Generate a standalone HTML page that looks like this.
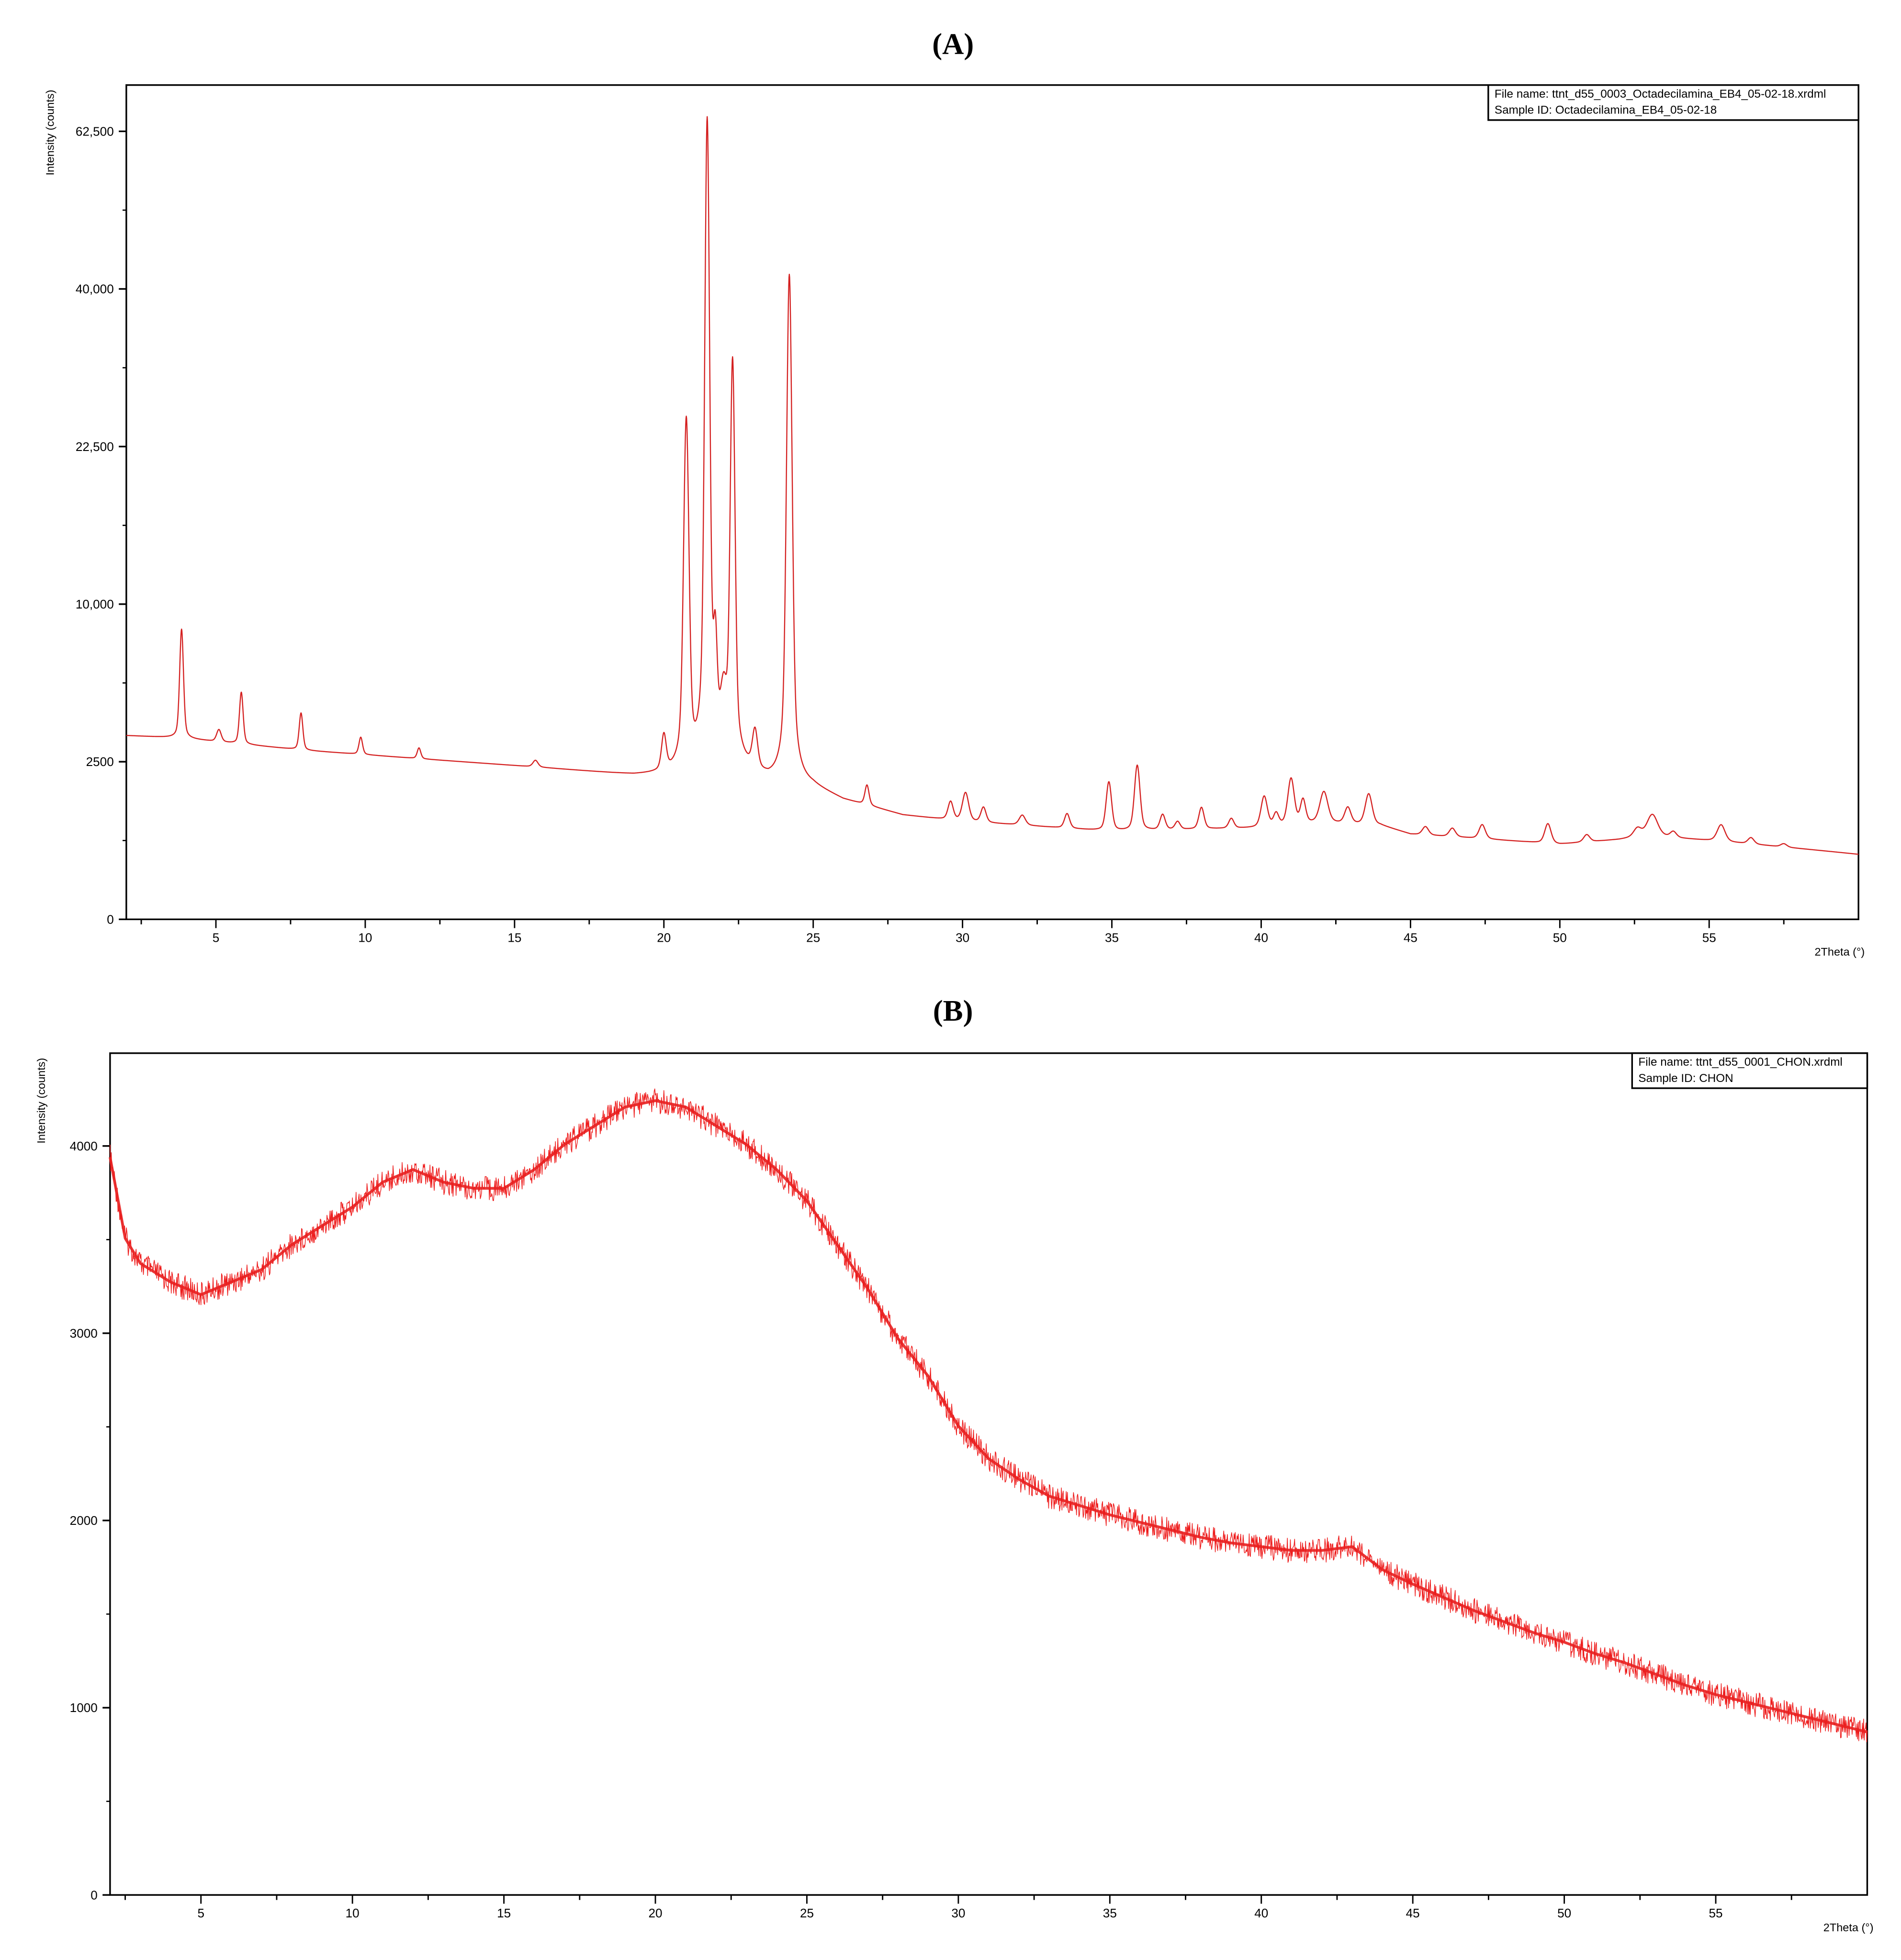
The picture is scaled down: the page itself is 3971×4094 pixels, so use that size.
<!DOCTYPE html>
<html><head><meta charset="utf-8"><style>
html,body{margin:0;padding:0;background:#fff;}
svg{display:block;}
.sans{font-family:"Liberation Sans",sans-serif;}
</style></head><body>
<svg id="fig" xmlns="http://www.w3.org/2000/svg" width="3971" height="4094" viewBox="0 0 1520 1567" preserveAspectRatio="none">
<rect x="0" y="0" width="1520" height="1567" fill="#fff"/>
<text x="762" y="43" text-anchor="middle" style="font-family:'Liberation Serif',serif;font-size:24px;font-weight:bold">(A)</text>
<text x="762" y="816" text-anchor="middle" style="font-family:'Liberation Serif',serif;font-size:24px;font-weight:bold">(B)</text>
<g id="chartA" class="sans"></g>
<g id="chartB" class="sans"></g>
</svg>
<script>
// ---------- Chart A data ----------
const aBaseX = [2, 3.8, 5, 8, 12, 16, 19, 20, 21, 21.7, 22.6, 23.5, 25, 26, 28, 30, 32, 35, 38, 40, 42, 44, 45, 50, 52, 53, 54, 55, 60];
const aBaseY = [3400, 3310, 3175, 2870, 2580, 2305, 2083, 2083, 2100, 2600, 2300, 1900, 1736, 1421, 1085, 958, 886, 772, 816, 840, 934, 886, 728, 567, 640, 707, 660, 625, 425];
const aPeakPos = [3.85, 5.1, 5.85, 7.85, 9.85, 11.8, 15.7, 20.0, 20.75, 21.45, 21.72, 22.0, 22.3, 23.05, 24.2, 26.8, 29.6, 30.1, 30.7, 32.0, 33.5, 34.9, 35.85, 36.7, 37.2, 38.0, 39.0, 40.1, 40.5, 41.0, 41.4, 42.1, 42.9, 43.6, 45.5, 46.4, 47.4, 49.6, 50.9, 52.6, 53.1, 53.8, 55.4, 56.4, 57.5];
const aPeakHeight = [5170, 450, 2100, 1400, 600, 360, 210, 1200, 23000, 62000, 4500, 2200, 29000, 1300, 40000, 500, 400, 650, 320, 200, 290, 1120, 1600, 300, 150, 440, 190, 670, 250, 1100, 520, 700, 340, 685, 150, 150, 250, 340, 120, 150, 400, 100, 290, 100, 50];
const aPeakWidth = [0.07, 0.09, 0.07, 0.07, 0.07, 0.07, 0.1, 0.09, 0.09, 0.08, 0.07, 0.12, 0.08, 0.1, 0.09, 0.08, 0.1, 0.12, 0.1, 0.12, 0.1, 0.1, 0.1, 0.1, 0.1, 0.1, 0.1, 0.12, 0.1, 0.12, 0.1, 0.15, 0.12, 0.13, 0.12, 0.12, 0.12, 0.12, 0.12, 0.15, 0.2, 0.12, 0.15, 0.12, 0.12];
const aYTicks = [0, 2500, 10000, 22500, 40000, 62500];
const aYTickLabels = ["0", "2500", "10,000", "22,500", "40,000", "62,500"];
const xTicks = [5, 10, 15, 20, 25, 30, 35, 40, 45, 50, 55];

// ---------- Chart B data ----------
const bX = [2, 2.5, 3, 4, 5, 6, 7, 8, 9, 10, 11, 12, 13, 14, 15, 16, 17, 18, 19, 20, 21, 22, 23, 24, 25, 26, 27, 28, 29, 30, 31, 32, 33, 34, 35, 36, 37, 38, 39, 40, 41, 42, 43, 44, 45, 46, 47, 48, 49, 50, 51, 52, 53, 54, 55, 56, 57, 58, 59, 60];
const bY = [3940, 3507, 3373, 3273, 3206, 3273, 3340, 3473, 3574, 3674, 3807, 3874, 3807, 3774, 3774, 3874, 4008, 4108, 4208, 4242, 4208, 4108, 4008, 3874, 3707, 3473, 3240, 2973, 2772, 2505, 2330, 2220, 2130, 2080, 2030, 1990, 1950, 1910, 1880, 1860, 1840, 1840, 1860, 1737, 1660, 1590, 1520, 1460, 1400, 1350, 1290, 1240, 1180, 1120, 1070, 1030, 990, 950, 910, 870];
const bYTicks = [0, 1000, 2000, 3000, 4000];
const bYTickLabels = ["0", "1000", "2000", "3000", "4000"];

const NS = "http://www.w3.org/2000/svg";
function mk(tag, attrs, parent) {
  const e = document.createElementNS(NS, tag);
  for (const k in attrs) e.setAttribute(k, attrs[k]);
  parent.appendChild(e);
  return e;
}
function interp(xs, ys, x) {
  if (x <= xs[0]) return ys[0];
  for (let i = 1; i < xs.length; i++) {
    if (x <= xs[i]) { const t = (x - xs[i-1]) / (xs[i] - xs[i-1]); return ys[i-1] + t * (ys[i] - ys[i-1]); }
  }
  return ys[ys.length-1];
}

// ---------- Chart A ----------
(function(){
  const g = document.getElementById('chartA');
  const L = 101, R = 1486, T = 68, B = 735;
  const xs = v => L + (v - 2) / 58 * (R - L);
  const ys = v => B - Math.sqrt(Math.max(v,0)) / 50 * 126;
  const frame = mk('rect', {x:L, y:T, width:R-L, height:B-T, fill:'none', stroke:'#000', 'stroke-width':1.3}, g);
  
  
  aYTicks.forEach((v,i) => {
    const y = ys(v);
    const t = mk('line', {x1:L-6, x2:L, y1:y, y2:y, stroke:'#000', 'stroke-width':1.3}, g);
    
    
    const lb = mk('text', {x:L-10, y:y+3.5, 'text-anchor':'end', 'font-size':10}, g);
    lb.textContent = aYTickLabels[i];
    
    
    if (i < aYTicks.length - 1) {
      const s = (Math.sqrt(v) + Math.sqrt(aYTicks[i+1])) / 2;
      const my = ys(s*s);
      const m = mk('line', {x1:L-3, x2:L, y1:my, y2:my, stroke:'#000', 'stroke-width':1}, g);
      
      
    }
  });
  for (let v = 2.5; v < 60; v += 2.5) {
    const major = v % 5 === 0;
    const x = xs(v);
    const t = mk('line', {x1:x, x2:x, y1:B, y2:B+(major?7:4), stroke:'#000', 'stroke-width':1.1}, g);
    
    
  }
  xTicks.forEach(v => {
    const lb = mk('text', {x:xs(v), y:B+18, 'text-anchor':'middle', 'font-size':10}, g);
    lb.textContent = String(v);
    
    
  });
  const yt = mk('text', {x:0, y:0, transform:'translate(43,106) rotate(-90)', 'text-anchor':'middle', 'font-size':9}, g);
  yt.textContent = 'Intensity (counts)';
  
  
  const xt = mk('text', {x:1491, y:764, 'text-anchor':'end', 'font-size':9}, g);
  xt.textContent = '2Theta (°)';
  
  
  const lg = mk('rect', {x:1190, y:T, width:R-1190, height:28, fill:'#fff', stroke:'#000', 'stroke-width':1.3}, g);
  
  
  const l1 = mk('text', {x:1195, y:78, 'font-size':9.3}, g);
  l1.textContent = 'File name:  ttnt_d55_0003_Octadecilamina_EB4_05-02-18.xrdml';
  
  
  const l2 = mk('text', {x:1195, y:91, 'font-size':9.3}, g);
  l2.textContent = 'Sample ID: Octadecilamina_EB4_05-02-18';
  
  
  let d = '';
  for (let k = 0; k <= 5800; k++) {
    const x = 2 + k * 0.01;
    let y = interp(aBaseX, aBaseY, x);
    for (let p = 0; p < aPeakPos.length; p++) {
      const dx = (x - aPeakPos[p]) / aPeakWidth[p];
      y += aPeakHeight[p] * (0.6 * Math.exp(-0.693 * dx * dx) + 0.4 / (1 + dx * dx));
    }
    d += (k ? 'L' : 'M') + xs(x).toFixed(2) + ' ' + ys(y).toFixed(2);
  }
  const path = mk('path', {d:d, fill:'none', stroke:'#d42020', 'stroke-width':0.9, 'stroke-linejoin':'round'}, g);
  
  
})();

// ---------- Chart B ----------
(function(){
  const g = document.getElementById('chartB');
  const L = 88, R = 1493, T = 842, B = 1515;
  const xs = v => L + (v - 2) / 58 * (R - L);
  const ys = v => B - v / 1000 * 149.7;
  const frame = mk('rect', {x:L, y:T, width:R-L, height:B-T, fill:'none', stroke:'#000', 'stroke-width':1.3}, g);
  
  
  bYTicks.forEach((v,i) => {
    const y = ys(v);
    const t = mk('line', {x1:L-6, x2:L, y1:y, y2:y, stroke:'#000', 'stroke-width':1.3}, g);
    
    
    const lb = mk('text', {x:L-10, y:y+3.5, 'text-anchor':'end', 'font-size':10}, g);
    lb.textContent = bYTickLabels[i];
    
    
  });
  for (let v = 500; v < 4500; v += 1000) {
    const m = mk('line', {x1:L-3, x2:L, y1:ys(v), y2:ys(v), stroke:'#000', 'stroke-width':1}, g);
    
    
  }
  for (let v = 2.5; v < 60; v += 2.5) {
    const major = v % 5 === 0;
    const x = xs(v);
    const t = mk('line', {x1:x, x2:x, y1:B, y2:B+(major?7:4), stroke:'#000', 'stroke-width':1.1}, g);
    
    
  }
  xTicks.forEach(v => {
    const lb = mk('text', {x:xs(v), y:B+18, 'text-anchor':'middle', 'font-size':10}, g);
    lb.textContent = String(v);
    
    
  });
  const yt = mk('text', {x:0, y:0, transform:'translate(36,880) rotate(-90)', 'text-anchor':'middle', 'font-size':9}, g);
  yt.textContent = 'Intensity (counts)';
  
  
  const xt = mk('text', {x:1498, y:1544, 'text-anchor':'end', 'font-size':9}, g);
  xt.textContent = '2Theta (°)';
  
  
  const lg = mk('rect', {x:1305, y:T, width:R-1305, height:28, fill:'#fff', stroke:'#000', 'stroke-width':1.3}, g);
  
  
  const l1 = mk('text', {x:1310, y:852, 'font-size':9.3}, g);
  l1.textContent = 'File name:  ttnt_d55_0001_CHON.xrdml';
  
  
  const l2 = mk('text', {x:1310, y:865, 'font-size':9.3}, g);
  l2.textContent = 'Sample ID: CHON';
  
  
  // centre line from data, plus a deterministic jitter overlay (visual texture only)
  let d = '';
  let d2 = '';
  const n = 2900;
  for (let k = 0; k <= n; k++) {
    const x = 2 + k * 58 / n;
    const y = interp(bX, bY, x);
    d += (k ? 'L' : 'M') + xs(x).toFixed(2) + ' ' + ys(y).toFixed(2);
    const j = Math.sin(k * 12.9898) * 43758.5453;
    const off = ((j - Math.floor(j)) - 0.5) * 20;
    d2 += (k ? 'L' : 'M') + xs(x).toFixed(2) + ' ' + (ys(y) + off).toFixed(2);
  }
  const band = mk('path', {d:d2, fill:'none', stroke:'#ee1c1c', 'stroke-width':0.55, 'stroke-linejoin':'round'}, g);
  
  
  const path = mk('path', {d:d, fill:'none', stroke:'#e82020', 'stroke-width':2.2, 'stroke-linejoin':'round', opacity:0.9}, g);
  
  
})();
</script>
</body></html>
